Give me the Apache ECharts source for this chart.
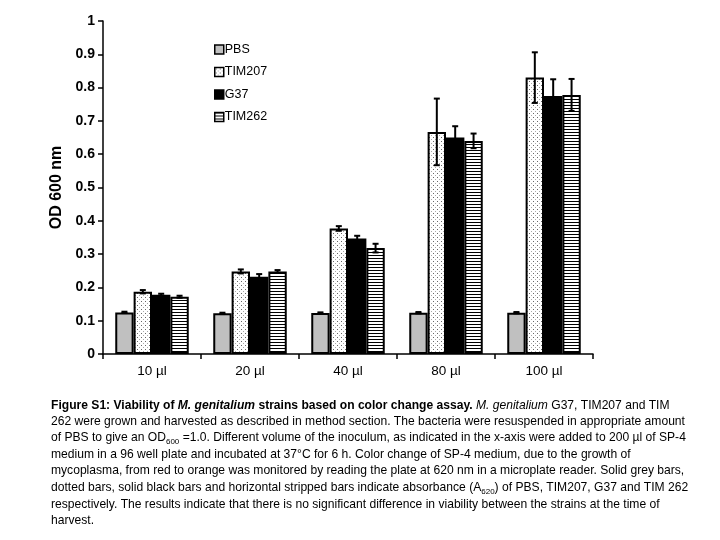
<!DOCTYPE html>
<html><head><meta charset="utf-8">
<script src="https://cdn.jsdelivr.net/npm/echarts@6/dist/echarts.min.js"></script>
<style>html,body{margin:0;padding:0;background:#fff}#c{width:720px;height:540px}</style>
</head><body><div id="c"></div>
<script>
const categories = ['10 µl', '20 µl', '40 µl', '80 µl', '100 µl'];
const seriesNames = ['PBS', 'TIM207', 'G37', 'TIM262'];
const pbs    = [0.125, 0.122, 0.123, 0.124, 0.124];
const tim207 = [0.187, 0.248, 0.377, 0.667, 0.830];
const g37    = [0.178, 0.232, 0.347, 0.650, 0.775];
const tim262 = [0.172, 0.248, 0.318, 0.640, 0.778];
const pbsErr    = [0.002, 0.002, 0.002, 0.002, 0.002];
const tim207Err = [0.005, 0.006, 0.007, 0.100, 0.076];
const g37Err    = [0.003, 0.008, 0.008, 0.034, 0.050];
const tim262Err = [0.003, 0.004, 0.013, 0.022, 0.048];
const yTicks = [0, 0.1, 0.2, 0.3, 0.4, 0.5, 0.6, 0.7, 0.8, 0.9, 1];

const values = [pbs, tim207, g37, tim262];
const errs = [pbsErr, tim207Err, g37Err, tim262Err];

function dotPattern() {
  const c = document.createElement('canvas'); c.width = 4; c.height = 4;
  const x = c.getContext('2d'); x.fillStyle = '#fff'; x.fillRect(0,0,4,4);
  x.fillStyle = '#666'; x.fillRect(1,1,1,1); x.fillStyle = '#aaa'; x.fillRect(3,3,1,1); return c;
}
function stripePattern() {
  const c = document.createElement('canvas'); c.width = 4; c.height = 3;
  const x = c.getContext('2d'); x.fillStyle = '#fff'; x.fillRect(0,0,4,3);
  x.fillStyle = '#000'; x.fillRect(0,0,4,1); return c;
}
const fills = ['#c0c0c0', {image: dotPattern(), repeat: 'repeat'}, '#000', {image: stripePattern(), repeat: 'repeat'}];

const chart = echarts.init(document.getElementById('c'), null, {renderer: 'canvas'});
const FONT = 'Liberation Sans, Arial, sans-serif';
const CAP = '"Liberation Sans Narrow", "Liberation Sans", Arial, sans-serif';

const series = seriesNames.map((n, i) => ({
  name: n, type: 'bar', data: values[i], barGap: 0, barCategoryGap: '25%',
  itemStyle: {color: fills[i], borderColor: '#000', borderWidth: 2},
  emphasis: {disabled: true}
}));
seriesNames.forEach((n, i) => {
  series.push({
    type: 'custom', z: 10, silent: true,
    data: values[i].map((v, j) => [j, v, errs[i][j]]),
    renderItem: function (params, api) {
      const band = api.size([1, 0])[0];
      const bw = band * 0.75 / 4;
      const c = api.coord([api.value(0), api.value(1)]);
      const x = c[0] + (i - 1.5) * bw;
      const hi = api.coord([api.value(0), api.value(1) + api.value(2)])[1];
      const lo = api.coord([api.value(0), api.value(1) - api.value(2)])[1];
      const st = {stroke: '#000', lineWidth: 2};
      return {type: 'group', children: [
        {type: 'line', shape: {x1: x, y1: hi, x2: x, y2: lo}, style: st},
        {type: 'line', shape: {x1: x - 3, y1: hi, x2: x + 3, y2: hi}, style: st},
        {type: 'line', shape: {x1: x - 3, y1: lo, x2: x + 3, y2: lo}, style: st}
      ]};
    }
  });
});

const capLines = [
  '{b|Figure S1: Viability of }{bi|M. genitalium}{b| strains based on color change assay. }{i|M. genitalium}{n| G37, TIM207 and TIM}',
  '{n|262 were grown and harvested as described in method section. The bacteria were resuspended in appropriate amount}',
  '{n|of PBS to give an OD}{s|600}{n| =1.0. Different volume of the inoculum, as indicated in the x-axis were added to 200 µl of SP-4}',
  '{n|medium in a 96 well plate and incubated at 37°C for 6 h. Color change of SP-4 medium, due to the growth of}',
  '{n|mycoplasma, from red to orange was monitored by reading the plate at 620 nm in a microplate reader. Solid grey bars,}',
  '{n|dotted bars, solid black bars and horizontal stripped bars indicate absorbance (A}{s|620}{n|) of PBS, TIM207, G37 and TIM 262}',
  '{n|respectively. The results indicate that there is no significant difference in viability between the strains at the time of}',
  '{n|harvest.}'
];
const capY = [400, 416, 432, 449, 465, 482, 499, 515];
const FS = 12.1;
const rich = {
  n: {fontFamily: CAP, fontSize: FS, color: '#111'},
  b: {fontFamily: CAP, fontSize: FS, fontWeight: 'bold', color: '#111'},
  bi: {fontFamily: CAP, fontSize: FS, fontWeight: 'bold', fontStyle: 'italic', color: '#111'},
  i: {fontFamily: CAP, fontSize: FS, fontStyle: 'italic', color: '#111'},
  s: {fontFamily: CAP, fontSize: 8, color: '#111', padding: [7, 0, 0, 0]}
};

chart.setOption({
  animation: false,
  backgroundColor: '#fff',
  grid: {left: 103, top: 21, width: 490, height: 333},
  legend: {
    orient: 'vertical', left: 209, top: 38, itemWidth: 9, itemHeight: 9, itemGap: 9.5,
    icon: 'rect',
    data: seriesNames, selectedMode: false,
    itemStyle: {borderColor: '#000', borderWidth: 1.5},
    textStyle: {fontFamily: FONT, fontSize: 12.5, color: '#000', padding: [0,0,0,-4]}
  },
  xAxis: {
    type: 'category', data: categories,
    axisLine: {lineStyle: {color: '#000', width: 1.5}},
    axisTick: {show: true, length: 5, lineStyle: {color: '#000', width: 1.5}},
    axisLabel: {fontFamily: FONT, fontSize: 13.5, color: '#000', margin: 10}
  },
  yAxis: {
    type: 'value', min: 0, max: 1, interval: 0.1,
    name: 'OD 600 nm', nameLocation: 'middle', nameGap: 37,
    nameTextStyle: {fontFamily: FONT, fontSize: 16, fontWeight: 'bold', color: '#000'},
    axisLine: {show: true, lineStyle: {color: '#000', width: 1.5}},
    axisTick: {show: true, length: 5, lineStyle: {color: '#000', width: 1.5}},
    splitLine: {show: false},
    axisLabel: {fontFamily: FONT, fontSize: 14, fontWeight: 'bold', color: '#000', margin: 8,
      formatter: v => String(+v.toFixed(1))}
  },
  series: series,
  graphic: capLines.map((t, k) => ({
    type: 'text', left: 51, top: capY[k], silent: true,
    style: {text: t, rich: rich, fontFamily: CAP, fontSize: FS}
  }))
});
</script></body></html>
